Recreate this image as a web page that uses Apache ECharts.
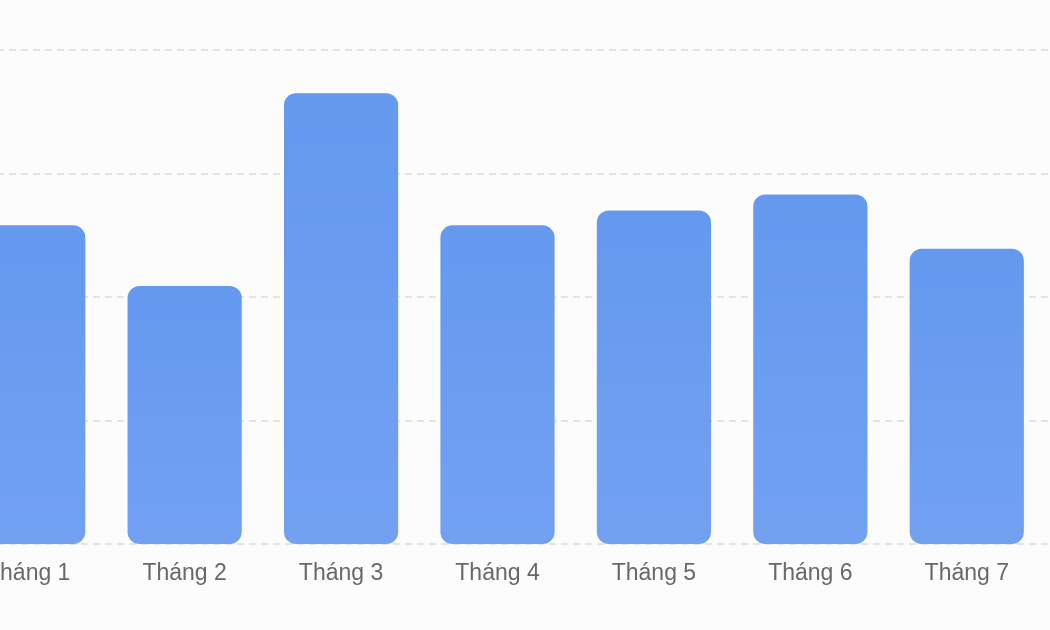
<!DOCTYPE html>
<html>
<head>
<meta charset="utf-8">
<script src="https://cdn.jsdelivr.net/npm/echarts@6.0.0/dist/echarts.min.js"></script>
<style>
  html, body { margin: 0; padding: 0; background: #fcfcfc; overflow: hidden; }
  /* the source chart is cut off on the left, so the canvas starts off-screen */
  #chart { width: 1101px; height: 630px; margin-left: -51px; }
</style>
</head>
<body>
<div id="chart"></div>
<script>
    // --- DATA ---
    const months = ['Tháng 1', 'Tháng 2', 'Tháng 3', 'Tháng 4', 'Tháng 5', 'Tháng 6', 'Tháng 7'];
    const values = [258, 209, 365, 258, 270, 283, 239];
    const yMax = 400;
    const yStep = 100;

    const chart = echarts.init(document.getElementById('chart'));

    const option = {
        backgroundColor: '#fcfcfc',
        animation: false,
        grid: [
            { left: 1, right: 5, top: 50, bottom: 86 },
            // full width dashed guide lines
            { left: 0, right: 0, top: 50, bottom: 86 }
        ],
        xAxis: [
            {
                type: 'category',
                gridIndex: 0,
                data: months,
                axisLine: { show: false },
                axisTick: { show: false },
                axisLabel: {
                    color: '#686868',
                    fontSize: 23,
                    fontFamily: 'Liberation Sans, Arial, sans-serif',
                    margin: 18
                }
            },
            { type: 'value', gridIndex: 1, show: false }
        ],
        yAxis: [
            { type: 'value', gridIndex: 0, min: 0, max: yMax, interval: yStep, show: false },
            {
                type: 'value',
                gridIndex: 1,
                min: 0,
                max: yMax,
                interval: yStep,
                axisLabel: { show: false },
                axisLine: { show: false },
                axisTick: { show: false },
                splitLine: { lineStyle: { color: '#dcdcdc', type: [7, 5], width: 1.5 } }
            }
        ],
        series: [{
            type: 'bar',
            xAxisIndex: 0,
            yAxisIndex: 0,
            data: values,
            barWidth: '73%',
            itemStyle: {
                borderRadius: 12,
                color: new echarts.graphic.LinearGradient(0, 0, 0, 1, [
                    { offset: 0, color: '#6499ef' },
                    { offset: 1, color: '#72a1f2' }
                ])
            }
        }]
    };

    chart.setOption(option);
</script>
</body>
</html>
